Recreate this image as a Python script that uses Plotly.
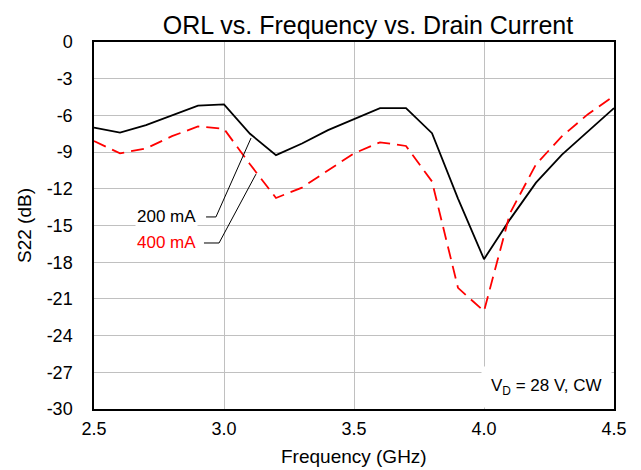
import plotly.graph_objects as go

freq_ghz = [2.5, 2.6, 2.7, 2.8, 2.9, 3.0, 3.1, 3.2, 3.3, 3.4, 3.5,
            3.6, 3.7, 3.8, 3.9, 4.0, 4.1, 4.2, 4.3, 4.4, 4.5]
s22_200ma = [-7.0, -7.4, -6.8, -6.0, -5.2, -5.1, -7.5, -9.25, -8.3, -7.2, -6.3,
             -5.4, -5.4, -7.45, -12.8, -17.75, -14.5, -11.5, -9.2, -7.3, -5.4]
s22_400ma = [-8.1, -9.1, -8.7, -7.7, -6.9, -7.1, -10.0, -12.75, -11.9, -10.5, -9.1,
             -8.2, -8.5, -11.4, -20.1, -22.0, -14.0, -10.0, -7.7, -5.9, -4.4]

y_ticks = list(range(0, -31, -3))
x_ticks = [2.5, 3.0, 3.5, 4.0, 4.5]

FONT = "Arial, Liberation Sans, sans-serif"

fig = go.Figure()
fig.add_trace(go.Scatter(x=freq_ghz, y=s22_200ma, mode="lines", name="200 mA",
                         line=dict(color="black", width=1.8)))
fig.add_trace(go.Scatter(x=freq_ghz, y=s22_400ma, mode="lines", name="400 mA",
                         line=dict(color="#ff0000", width=1.8, dash="13px,7px")))

# leader lines for the inline labels
for pts in ([(2.931, -14.3), (2.969, -14.3), (3.104, -7.85)],
            [(2.923, -16.43), (2.981, -16.43), (3.123, -10.8)]):
    path = "M " + " L ".join(f"{x},{y}" for x, y in pts)
    fig.add_shape(type="path", path=path, xref="x", yref="y",
                  line=dict(color="black", width=1))

fig.add_annotation(x=2.777, y=-14.3, text="200 mA", showarrow=False,
                   bgcolor="white", font=dict(family=FONT, size=17, color="black"))
fig.add_annotation(x=2.777, y=-16.43, text="400 mA", showarrow=False,
                   bgcolor="white", font=dict(family=FONT, size=17, color="#ff0000"))
fig.add_annotation(x=0.997, y=0.004, xref="paper", yref="paper", xanchor="right",
                   yanchor="bottom", text="V<sub>D</sub> = 28 V, CW", showarrow=False,
                   bgcolor="white", borderpad=9,
                   font=dict(family=FONT, size=17, color="black"))
# x-axis title placed as an annotation for exact spacing
fig.add_annotation(x=0.5, y=0, xref="paper", yref="paper", yanchor="middle",
                   yshift=-47, text="Frequency (GHz)", showarrow=False,
                   font=dict(family=FONT, size=19, color="black"))

fig.update_layout(
    width=634, height=463,
    margin=dict(l=86, r=28, t=34, b=62),
    paper_bgcolor="white", plot_bgcolor="white",
    showlegend=False,
    font=dict(family=FONT, size=18, color="black"),
    title=dict(text="ORL vs. Frequency vs. Drain Current", x=0.5 + 14 / 520, xanchor="center",
               xref="paper", yref="container", y=1 - 17 / 463, yanchor="middle",
               font=dict(family=FONT, size=25, color="black")),
)
fig.update_xaxes(range=[2.5, 4.5], tickvals=x_ticks, ticktext=[f"{v:.1f}" for v in x_ticks],
                 showgrid=True, gridcolor="#c0c0c0", gridwidth=1,
                 showline=True, linecolor="black", linewidth=1.5, mirror=True,
                 ticks="", zeroline=False, ticklabelstandoff=3)
fig.update_yaxes(range=[-30, 0], tickvals=y_ticks, ticktext=[str(v) for v in y_ticks],
                 showgrid=True, gridcolor="#c0c0c0", gridwidth=1,
                 showline=True, linecolor="black", linewidth=1.5, mirror=True,
                 ticks="", zeroline=False, ticklabelstandoff=16,
                 title=dict(text="S22 (dB)", font=dict(size=19), standoff=10))

fig.write_html("out.html")
